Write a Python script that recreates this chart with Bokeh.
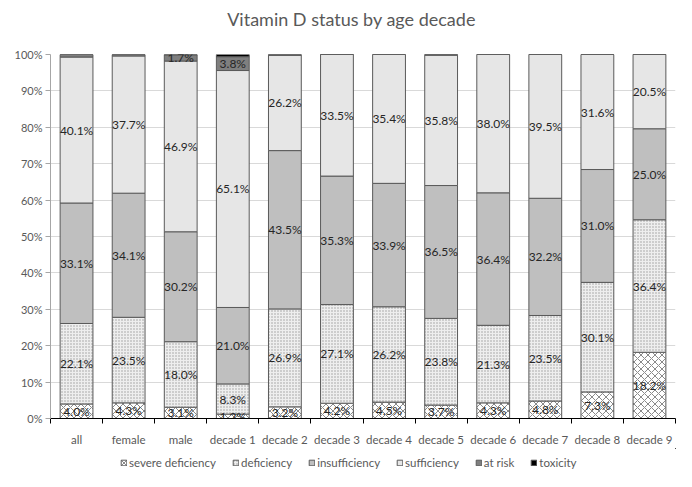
from bokeh.plotting import figure
from bokeh.models import ColumnDataSource, Range1d, FixedTicker, NumeralTickFormatter, Legend, LegendItem
from bokeh.layouts import column
from bokeh.embed import file_html
from bokeh.resources import INLINE
from bokeh.core.properties import value

title_text = "Vitamin D status by age decade"
categories = ["all", "female", "male", "decade 1", "decade 2", "decade 3", "decade 4",
              "decade 5", "decade 6", "decade 7", "decade 8", "decade 9"]
severe_deficiency = [4.0, 4.3, 3.1, 1.2, 3.2, 4.2, 4.5, 3.7, 4.3, 4.8, 7.3, 18.2]
deficiency = [22.1, 23.5, 18.0, 8.3, 26.9, 27.1, 26.2, 23.8, 21.3, 23.5, 30.1, 36.4]
insufficiency = [33.1, 34.1, 30.2, 21.0, 43.5, 35.3, 33.9, 36.5, 36.4, 32.2, 31.0, 25.0]
sufficiency = [40.1, 37.7, 46.9, 65.1, 26.2, 33.5, 35.4, 35.8, 38.0, 39.5, 31.6, 20.5]
at_risk = [0.7, 0.4, 1.7, 3.8, 0.1, 0.0, 0.0, 0.2, 0.0, 0.0, 0.0, 0.0]
toxicity = [0.0, 0.0, 0.1, 0.6, 0.1, 0.0, 0.0, 0.0, 0.0, 0.0, 0.0, 0.0]
# which values carry a data label
at_risk_labelled = [False, False, True, True, False, False, False, False, False, False, False, False]

series = [
    ("severe deficiency", severe_deficiency, [True] * 12),
    ("deficiency", deficiency, [True] * 12),
    ("insufficiency", insufficiency, [True] * 12),
    ("sufficiency", sufficiency, [True] * 12),
    ("at risk", at_risk, at_risk_labelled),
    ("toxicity", toxicity, [False] * 12),
]
styles = {
    "severe deficiency": dict(fill_color="white", hatch_pattern="diagonal_cross", hatch_color="#6b6b6b", hatch_scale=7, hatch_weight=0.8),
    "deficiency": dict(fill_color="#eeeeee", hatch_pattern="dot", hatch_color="#9a9a9a", hatch_scale=3, hatch_weight=1),
    "insufficiency": dict(fill_color="#bfbfbf"),
    "sufficiency": dict(fill_color="#e6e6e6"),
    "at risk": dict(fill_color="#7f7f7f"),
    "toxicity": dict(fill_color="#000000"),
}

FONT = "Lato"
TXT = "#595959"
W = 676


def strip(height, x_range, y_range):
    f = figure(width=W, height=height, output_backend="svg", toolbar_location=None,
               x_range=x_range, y_range=y_range,
               x_axis_location=None, y_axis_location=None,
               min_border_left=0, min_border_right=0, min_border_top=0, min_border_bottom=0)
    f.grid.visible = False
    f.outline_line_color = None
    return f


# title strip
tp = strip(36, Range1d(0, 1), Range1d(0, 1))
tp.text(x=[0.4816], y=[0.5], text=[title_text], text_align="center", text_baseline="middle",
        text_font=value(FONT), text_font_size="18px", text_color=TXT)

# main chart
p = figure(width=W, height=412, output_backend="svg", toolbar_location=None,
           x_range=Range1d(0, len(categories)), y_range=Range1d(0, 1),
           min_border_left=50, min_border_right=1, min_border_top=18, min_border_bottom=27)
p.outline_line_color = None

xs = [i + 0.5 for i in range(len(categories))]
sources = {}
bottom = [0.0] * len(categories)
lab_x, lab_y, lab_t = [], [], []
for name, vals, show in series:
    top = [b + v / 100.0 for b, v in zip(bottom, vals)]
    src = ColumnDataSource(dict(x=xs, bottom=bottom, top=top))
    sources[name] = src
    p.vbar(x="x", bottom="bottom", top="top", width=0.63, source=src,
           line_color="#5a5a5a", line_width=1, **styles[name])
    for i, v in enumerate(vals):
        if show[i]:
            lab_x.append(xs[i])
            lab_y.append((bottom[i] + top[i]) / 2)
            lab_t.append(f"{v:.1f}%")
    bottom = top

p.text(x=lab_x, y=lab_y, text=lab_t, text_align="center", text_baseline="middle",
       text_font=value(FONT), text_font_size="12px", text_color="#262626")

yax = p.yaxis[0]
yax.ticker = FixedTicker(ticks=[i / 10 for i in range(11)])
yax.formatter = NumeralTickFormatter(format="0%")
yax.axis_line_color = "#a6a6a6"
yax.major_tick_line_color = "#a6a6a6"
yax.major_tick_out = 5
yax.major_tick_in = 0
yax.minor_tick_line_color = None
yax.major_label_text_font = FONT
yax.major_label_text_font_size = "11px"
yax.major_label_text_color = TXT
yax.major_label_standoff = 3

xax = p.xaxis[0]
xax.ticker = FixedTicker(ticks=xs, minor_ticks=list(range(len(categories) + 1)))
xax.major_label_overrides = {x: c for x, c in zip(xs, categories)}
xax.axis_line_color = "#000000"
xax.major_tick_line_color = None
xax.minor_tick_line_color = "#000000"
xax.minor_tick_out = 5
xax.minor_tick_in = 0
xax.major_label_text_font = FONT
xax.major_label_text_font_size = "11.5px"
xax.major_label_text_color = TXT
xax.major_label_standoff = 8

p.xgrid.grid_line_color = None
p.ygrid.grid_line_color = "#d9d9d9"
p.ygrid.ticker = FixedTicker(ticks=[i / 10 for i in range(1, 11)])

# legend strip (its ranges keep the bars themselves out of view)
lg = strip(23, Range1d(-20, -19), Range1d(-20, -19))
items = []
for name, vals, show in series:
    r = lg.vbar(x="x", bottom="bottom", top="top", width=0.63, source=sources[name],
                line_color="#5a5a5a", line_width=1, **styles[name])
    items.append(LegendItem(label=name, renderers=[r]))
legend = Legend(items=items, orientation="horizontal", location=(70, 2),
                label_text_font=FONT, label_text_font_size="11.5px", label_text_color=TXT,
                glyph_width=7, glyph_height=7, label_standoff=2, spacing=16, label_height=12,
                padding=0, margin=0, border_line_color=None, background_fill_alpha=0)
lg.add_layout(legend, "center")

layout = column(tp, p, lg, spacing=0)
open("out.html", "w").write(file_html(layout, INLINE))
